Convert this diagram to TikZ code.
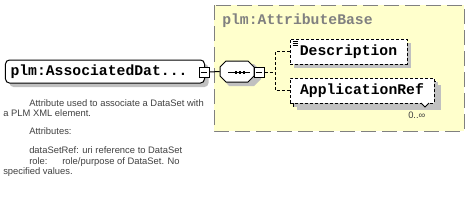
\documentclass[tikz,border=0pt]{standalone}
\usepackage{fontspec}
\setmainfont{Liberation Sans}
\newfontfamily\codefont{Liberation Mono}
\usetikzlibrary{shadows}
\definecolor{boxyellow}{HTML}{FFFFCC}
\definecolor{framegray}{HTML}{808080}
\definecolor{shadowgray}{HTML}{C0C0C0}
\definecolor{notegray}{HTML}{404040}
\tikzset{
  elem/.style={draw=black, fill=white, line width=0.75pt, inner sep=0pt,
    font=\codefont\bfseries\fontsize{11.06}{13}\selectfont,
    general shadow={fill=shadowgray, shadow xshift=3pt, shadow yshift=-3pt}},
  optelem/.style={elem, dashed, dash pattern=on 2.25pt off 1.5pt},
  minusbox/.style={draw=black, fill=white, line width=0.75pt, minimum size=7.5pt, inner sep=0pt},
  conn/.style={draw=black, line width=0.75pt},
  optconn/.style={conn, dash pattern=on 2.25pt off 1.5pt},
  note/.style={anchor=base west, inner sep=0pt, text=notegray, font=\fontsize{7.05}{8}\selectfont},
}
\begin{document}
\begin{tikzpicture}[x=0.75pt,y=-0.75pt]
\useasboundingbox (0,0) rectangle (469,201);
% group box
\draw[fill=boxyellow, draw=framegray, line width=0.75pt, dash pattern=on 11.25pt off 4.5pt] (214,5) rectangle (464,131);
\node[anchor=west, inner sep=0pt, text=framegray, font=\codefont\bfseries\fontsize{11.06}{13}\selectfont] (title) at (222,21) {plm:AttributeBase};
% main element
\node[elem, rounded corners=3pt, minimum height=17.25pt, inner xsep=3.75pt, anchor=west] (assoc) at (5,71.5)
  {\makebox[141.75pt][l]{plm:AssociatedDat...}};
\node[minusbox] (m1) at (204,72) {};
\draw (m1.west) ++(1.5pt,0) -- ++(4.5pt,0);
% sequence compositor
\fill[shadowgray] (229,64) -- (254,64) -- (261,71) -- (261,79) -- (254,86) -- (229,86) -- (223,79) -- (223,71) -- cycle;
\draw[fill=white, line width=0.75pt] (226,61) -- (248,61) -- (254,67) -- (254,76) -- (248,82) -- (226,82) -- (220,76) -- (220,67) -- cycle;
\node[minimum width=25.5pt, minimum height=15.75pt, inner sep=0pt] (seq) at (237,71.5) {};
\draw[line width=0.75pt] (228,72) -- (250,72);
\foreach \xx in {234.5,238.5,242.5} \fill (\xx,70.5) rectangle ++(2.5,3);
\node[minusbox] (m2) at (259,72) {};
\draw (m2.west) ++(1.5pt,0) -- ++(4.5pt,0);
\draw[conn] (m1.east) -- (seq.west);
% children
\node[optelem, minimum width=87.75pt, minimum height=18.75pt] (desc) at (348.5,51.5) {Description};
\draw[line width=0.6pt] (292.5,41.5) -- (297.5,41.5) (292.5,43.5) -- (297.5,43.5) (292.5,45.5) -- (297.5,45.5);
\node[optelem, minimum width=108pt, minimum height=18.75pt] (apprefback) at (365,93.5) {};
\node[optelem, minimum width=108pt, minimum height=18.75pt] (appref) at (362,90.5) {ApplicationRef};
\draw[fill=white, line width=0.6pt] (421,103) -- (425,107) -- (429,103);
\node[note] (mult) at (408,118.3) {0..∞};
\coordinate (bus) at (275,72);
\draw[optconn] (m2.east) -- (bus);
\draw[optconn] (desc.west) -| (bus) |- (appref.west);
% annotation
\node[note] (n1) at (29,106.6) {Attribute used to associate a DataSet with};
\node[note] (n2) at (3,116.6) {a PLM XML element.};
\node[note] (n3) at (29,134.3) {Attributes:};
\node[note] (n4) at (29,153.3) {dataSetRef: uri reference to DataSet};
\node[note] (n5) at (29,164) {role:};
\node[note] (n6) at (62,164) {role/purpose of DataSet. No};
\node[note] (n7) at (3,174.3) {specified values.};
\end{tikzpicture}
\end{document}
